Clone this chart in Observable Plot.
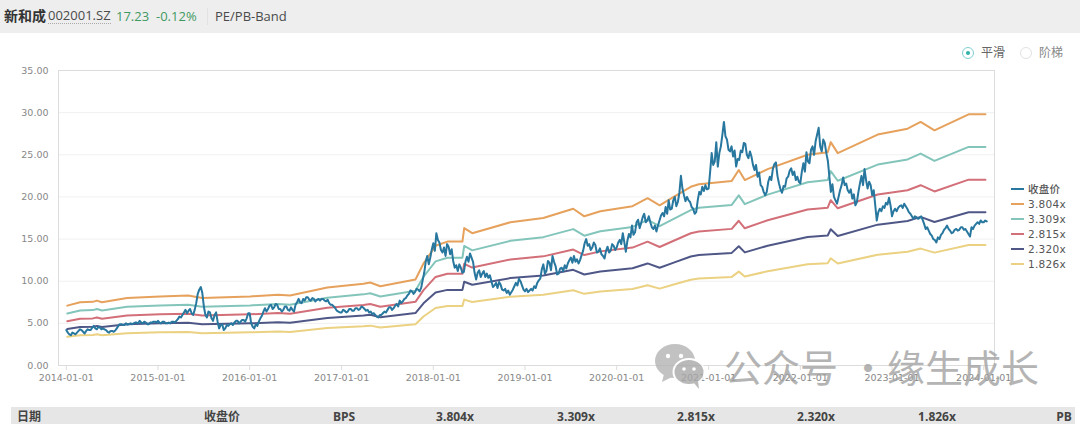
<!DOCTYPE html>
<html lang="zh">
<head>
<meta charset="utf-8">
<script src="https://cdn.jsdelivr.net/npm/d3@7"></script>
<script src="https://cdn.jsdelivr.net/npm/@observablehq/plot@0.6"></script>
<style>
html,body{margin:0;padding:0;background:#fff;overflow:hidden}
#page{position:relative;width:1080px;height:424px;font-family:"Open Sans","Noto Sans CJK SC",sans-serif;overflow:hidden}
#page svg.chart{position:absolute;left:0;top:0;background:transparent}
.abs{position:absolute;white-space:nowrap}
.hd{top:7px;font-size:13px;line-height:18px;color:#4a4a4a}
.th{top:408px;font-size:12px;line-height:17px;font-weight:700;color:#444;transform:translateX(-50%)}
.lg{left:1028px;font:500 10.5px/12px "DejaVu Sans","Noto Sans CJK SC",sans-serif;color:#555;letter-spacing:.3px}
.sw{left:1011px;width:13px;height:2px}
.radio{border-radius:50%;box-sizing:border-box}
.wm{top:343px;font-family:"Noto Sans CJK SC",sans-serif;font-size:38px;line-height:46px;color:#a2a2a2;opacity:.8;font-weight:400}
</style>
</head>
<body>
<div id="page"></div>
<script>
const seriesNames = ["收盘价", "3.804x", "3.309x", "2.815x", "2.320x", "1.826x"];
const seriesColors = ["#27779f", "#e6a15c", "#83c5bb", "#d26f78", "#4f5787", "#ebd182"];
const tableHead = ["收盘价", "BPS", "3.804x", "3.309x", "2.815x", "2.320x", "1.826x"];
const yTicks = [0, 5, 10, 15, 20, 25, 30, 35];
const xTicks = ["2014-01-01","2015-01-01","2016-01-01","2017-01-01","2018-01-01","2019-01-01","2020-01-01","2021-01-01","2022-01-01","2023-01-01","2024-01-01"];

const bandDates = ["2014-01-05","2014-02-25","2014-04-17","2014-05-03","2014-05-23","2014-08-31","2015-01-10","2015-05-01","2015-06-26","2016-01-03","2016-04-23","2016-06-10","2016-11-05","2017-03-29","2017-04-25","2017-06-04","2017-10-22","2017-11-23","2018-01-10","2018-02-26","2018-04-27","2018-05-04","2018-06-05","2018-11-04","2019-03-15","2019-07-12","2019-08-25","2019-10-28","2020-03-04","2020-05-03","2020-06-20","2020-08-15","2020-10-22","2020-11-23","2021-04-03","2021-05-01","2021-05-25","2021-08-24","2022-01-30","2022-04-20","2022-05-02","2022-05-30","2022-11-05","2023-03-04","2023-04-25","2023-06-19","2023-11-02","2024-01-08"];
const band3804 = [7.1,7.5,7.55,7.7,7.5,8.0,8.2,8.3,8.0,8.2,8.4,8.3,9.25,9.7,9.85,9.4,10.2,12.1,14.2,14.7,14.7,16.3,15.7,17.0,17.5,18.6,17.7,18.3,18.9,19.85,19.0,20.0,21.2,21.5,21.9,23.2,22.0,23.3,25.0,25.3,26.5,25.2,27.4,28.1,28.9,27.9,29.8,29.8];
const band3309 = [6.18,6.53,6.57,6.70,6.53,6.96,7.13,7.22,6.96,7.13,7.31,7.22,8.05,8.44,8.57,8.18,8.87,10.53,12.35,12.79,12.79,14.18,13.66,14.79,15.23,16.18,15.40,15.92,16.44,17.27,16.53,17.40,18.44,18.71,19.05,20.18,19.14,20.27,21.75,22.01,23.06,21.92,23.84,24.45,25.14,24.27,25.93,25.93];
const band2815 = [5.25,5.55,5.59,5.70,5.55,5.92,6.07,6.14,5.92,6.07,6.22,6.14,6.85,7.18,7.29,6.96,7.55,8.95,10.51,10.88,10.88,12.06,11.62,12.58,12.95,13.76,13.10,13.54,13.99,14.69,14.06,14.80,15.69,15.91,16.21,17.17,16.28,17.24,18.50,18.72,19.61,18.65,20.28,20.79,21.39,20.65,22.05,22.05];
const band2320 = [4.33,4.58,4.61,4.70,4.58,4.88,5.00,5.06,4.88,5.00,5.12,5.06,5.64,5.92,6.01,5.73,6.22,7.38,8.66,8.97,8.97,9.94,9.58,10.37,10.68,11.35,10.80,11.16,11.53,12.11,11.59,12.20,12.93,13.12,13.36,14.15,13.42,14.21,15.25,15.43,16.17,15.37,16.71,17.14,17.63,17.02,18.18,18.18];
const band1826 = [3.41,3.60,3.62,3.70,3.60,3.84,3.94,3.98,3.84,3.94,4.03,3.98,4.44,4.66,4.73,4.51,4.90,5.81,6.82,7.06,7.06,7.82,7.54,8.16,8.40,8.93,8.50,8.78,9.07,9.53,9.12,9.60,10.18,10.32,10.51,11.14,10.56,11.18,12.00,12.14,12.72,12.10,13.15,13.49,13.87,13.39,14.30,14.30];

// Closing price, sixty readings per calendar year
const price2014 = [4.2,3.9,3.7,3.6,3.9,3.8,3.7,3.9,4.1,4.3,4.2,4.0,3.8,4.1,4.3,4.2,4.2,4.5,4.7,4.4,4.3,4.6,4.5,4.3,4.4,4.3,4.2,4.0,3.9,4.1,4.1,4.0,4.15,4.4,4.7,4.9,4.9,4.8,4.8,5.0,4.85,4.9,5.0,4.9,5.0,5.1,5.1,5.0,5.3,5.1,5.0,5.2,5.1,4.9,4.9,5.1,5.1,5.2,5.2,5.1];
const price2015 = [5.3,5.1,5.0,5.2,5.2,5.0,5.0,5.1,5.0,5.2,5.2,5.1,5.3,5.5,5.8,5.7,6.0,6.3,6.6,6.2,6.5,6.7,6.2,6.0,6.6,7.4,8.5,9.0,9.3,8.6,7.0,6.0,5.7,6.4,6.3,5.6,5.3,6.0,6.3,5.2,4.4,4.8,4.9,4.2,4.4,4.8,4.7,4.9,5.0,4.8,5.1,5.3,5.3,5.0,5.2,5.4,5.4,5.2,5.6,6.2];
const price2016 = [6.2,5.0,4.6,4.4,4.9,4.7,5.2,5.6,5.9,6.4,6.8,6.4,6.7,7.1,7.2,6.7,6.9,7.3,7.2,6.7,6.7,6.4,6.6,7.0,7.0,6.6,6.5,6.9,6.6,6.4,7.2,7.5,7.9,7.5,7.4,7.9,7.7,8.1,8.1,7.8,7.7,8.0,7.9,7.6,7.8,7.9,7.7,7.9,7.9,7.7,7.6,7.8,7.4,7.2,7.2,7.0,6.8,6.5,6.4,6.3];
const price2017 = [6.3,6.6,6.5,6.3,6.4,6.7,6.7,6.5,6.5,6.8,6.8,6.6,6.7,7.0,6.9,6.7,6.5,6.6,6.3,6.4,6.1,6.2,6.0,5.8,5.7,6.0,6.0,6.2,6.4,6.3,6.6,6.9,6.9,6.6,6.8,7.1,7.3,7.0,7.7,7.4,7.6,7.9,8.0,8.3,8.5,8.9,8.8,8.5,8.7,9.1,9.0,8.8,9.2,10.1,11.0,12.3,13.0,12.0,12.8,13.8];
const price2018 = [14.5,13.6,15.7,14.9,14.6,13.7,13.4,14.0,13.0,14.4,14.1,13.2,13.8,12.4,11.6,11.9,11.2,12.0,11.6,11.0,11.1,12.3,12.9,12.3,13.3,12.8,12.3,11.0,10.2,11.0,11.3,10.5,10.9,11.2,10.5,10.9,10.4,10.7,10.0,9.3,9.5,9.8,9.2,9.9,9.6,9.0,8.9,9.1,8.6,8.9,8.4,8.7,9.0,9.4,9.8,9.5,10.3,10.0,9.5,9.0];
const price2019 = [8.8,9.1,8.7,8.9,9.1,8.9,9.4,9.2,9.8,10.1,10.3,11.4,12.0,10.9,11.2,12.4,12.2,11.3,13.0,12.3,11.8,10.8,10.9,11.5,11.6,11.2,11.9,11.5,12.1,12.5,12.8,12.2,13.0,12.3,12.6,12.1,12.5,13.1,13.6,14.5,15.0,14.2,14.4,13.7,14.0,14.6,14.3,13.4,13.5,13.9,13.2,13.0,12.7,13.6,14.1,13.4,13.6,14.4,14.2,13.7];
const price2020 = [14.0,14.6,14.9,14.4,15.7,14.6,13.5,14.8,15.6,15.2,16.6,15.5,15.8,17.0,17.3,16.3,16.9,17.6,18.0,17.0,17.2,17.7,17.0,16.4,16.2,16.6,15.9,16.6,17.2,17.8,18.1,17.7,18.8,18.0,19.6,18.5,18.6,19.6,20.0,18.9,19.4,20.5,22.5,21.0,20.2,19.5,20.0,19.6,19.4,18.8,18.6,18.0,18.2,19.6,20.6,20.3,21.2,20.7,21.4,20.9];
const price2021 = [21.0,23.0,25.2,23.8,24.2,26.5,23.6,25.2,26.0,27.4,28.9,27.2,26.8,25.6,25.4,26.0,24.8,25.5,23.6,24.5,24.4,25.5,25.3,26.4,26.3,25.0,24.6,25.4,24.8,23.8,23.2,23.8,22.4,22.9,21.4,21.2,20.6,20.2,20.6,21.8,22.4,22.0,23.3,23.9,24.1,22.5,21.6,20.9,20.5,21.3,21.2,22.2,22.4,23.1,23.4,22.6,23.0,22.0,22.4,21.8];
const price2022 = [21.6,23.0,24.0,23.0,25.3,24.2,24.0,25.6,26.0,25.0,26.6,27.4,28.2,26.0,25.4,26.8,26.4,25.2,24.3,22.4,20.6,21.5,20.0,19.6,19.2,20.0,20.8,21.4,22.3,21.4,21.6,20.8,20.5,20.9,19.8,20.3,19.0,19.4,20.6,21.6,22.5,21.4,23.3,22.0,21.0,21.8,21.4,20.2,20.8,19.0,17.2,18.2,18.6,18.3,18.9,18.7,19.3,19.1,19.9,19.0];
const price2023 = [17.7,18.3,18.6,18.3,18.7,18.9,19.0,18.7,19.2,18.9,18.6,18.2,18.0,17.7,17.4,17.7,17.6,17.4,17.5,17.7,17.3,16.8,16.2,16.4,16.0,15.6,15.4,15.0,14.9,14.6,15.2,15.0,15.5,15.7,16.1,16.3,16.6,16.2,16.0,15.7,15.8,16.1,16.2,16.0,16.1,16.4,16.4,16.1,16.2,15.9,15.6,15.3,16.4,16.2,16.6,16.8,17.0,16.8,17.2,17.0];
const price2024 = [17.0,17.2,17.1];

const priceYears = [[2014,price2014],[2015,price2015],[2016,price2016],[2017,price2017],[2018,price2018],[2019,price2019],[2020,price2020],[2021,price2021],[2022,price2022],[2023,price2023],[2024,price2024]];
const stepMs = 365.25 / 60 * 864e5;
const priceData = priceYears.flatMap(([y, vals]) => vals.map((v, i) => ({date: new Date(Date.UTC(y, 0, 1) + i * stepMs), value: v})));
const bandSeries = [band3804, band3309, band2815, band2320, band1826];
const bandData = bandSeries.map(vals => vals.map((v, i) => ({date: new Date(bandDates[i]), value: v})));

const chart = Plot.plot({
  width: 1080, height: 424,
  marginLeft: 58, marginRight: 86, marginTop: 70, marginBottom: 59,
  style: {background: "transparent", fontFamily: '"DejaVu Sans",sans-serif', fontSize: "9.5px", color: "#888"},
  x: {type: "utc", domain: [new Date("2013-12-01"), new Date("2024-02-13")]},
  y: {domain: [0, 35]},
  marks: [
    Plot.ruleY(yTicks.slice(1, -1), {stroke: "#f0f0f0", strokeWidth: 1}),
    Plot.frame({stroke: "#dcdcdc", strokeWidth: 1}),
    Plot.axisY({ticks: yTicks, tickSize: 0, tickPadding: 10, tickFormat: d => d.toFixed(2), label: null, fill: "#888"}),
    Plot.axisX({ticks: xTicks.map(d => new Date(d)), tickSize: 5, tickPadding: 4, stroke: "#dcdcdc", fill: "#888", tickFormat: d3.utcFormat("%Y-%m-%d"), label: null}),
    ...bandData.map((d, i) => Plot.line(d, {x: "date", y: "value", stroke: seriesColors[i + 1], strokeWidth: 2})),
    Plot.line(priceData, {x: "date", y: "value", stroke: seriesColors[0], strokeWidth: 2, curve: "linear"})
  ]
});
chart.classList.add("chart");
const page = document.getElementById("page");

function div(cls, text, style) {
  const e = document.createElement("div");
  e.className = "abs " + cls;
  if (text) e.textContent = text;
  Object.assign(e.style, style || {});
  page.appendChild(e);
  return e;
}
div("", "", {left: "0", top: "0", width: "1080px", height: "33px", background: "#eeeeee"});
page.appendChild(chart);
div("hd", "新和成", {left: "4px", fontWeight: "700", fontSize: "14px", color: "#333"});
div("hd", "002001.SZ", {left: "48px", borderBottom: "1px dotted #aaa", lineHeight: "16px"});
div("hd", "17.23", {left: "116px", color: "#3f9a62"});
div("hd", "-0.12%", {left: "156px", color: "#3f9a62"});
div("", "", {left: "207px", top: "8px", width: "1px", height: "17px", background: "#e2e2e2"});
div("hd", "PE/PB-Band", {left: "215px"});

div("radio", "", {left: "962px", top: "47px", width: "12px", height: "12px", border: "1.5px solid #7fcfd0"});
div("radio", "", {left: "966px", top: "51px", width: "4px", height: "4px", background: "#2fb3a8"});
div("", "平滑", {left: "981px", top: "45px", fontSize: "12px", lineHeight: "16px", color: "#666"});
div("radio", "", {left: "1020px", top: "47px", width: "12px", height: "12px", border: "1px solid #e2e2e2"});
div("", "阶梯", {left: "1039px", top: "45px", fontSize: "12px", lineHeight: "16px", color: "#888"});

seriesNames.forEach((n, i) => {
  const y = 189 + i * 15;
  div("sw", "", {top: (y - 1) + "px", background: seriesColors[i]});
  div("lg", n, {top: (y - 6) + "px"});
});

div("", "", {left: "11px", top: "407px", width: "1064px", height: "17px", background: "#e6e6e6"});
div("th", "日期", {left: "29px"});
[222, 344, 455, 576, 696, 816, 937].forEach((x, i) => div("th", tableHead[i], {left: x + "px"}));
div("th", "PB", {left: "1064px"});

// WeChat watermark
const ns = "http://www.w3.org/2000/svg";
const ic = document.createElementNS(ns, "svg");
ic.setAttribute("width", "60"); ic.setAttribute("height", "50");
ic.setAttribute("style", "position:absolute;left:650px;top:342px;opacity:.8");
ic.innerHTML = '<ellipse cx="25" cy="19" rx="20" ry="17" fill="#b4b4b4"/><path d="M14 32l-2 8 10-5z" fill="#b4b4b4"/><ellipse cx="39" cy="30" rx="15.5" ry="13" fill="#a8a8a8" stroke="#fff" stroke-width="2"/><path d="M44 41l5 6-1-8z" fill="#a8a8a8"/><circle cx="18" cy="14" r="2.2" fill="#fff"/><circle cx="31" cy="14" r="2.2" fill="#fff"/><circle cx="34" cy="27" r="1.8" fill="#fff"/><circle cx="44" cy="27" r="1.8" fill="#fff"/>';
page.appendChild(ic);
div("wm", "公众号", {left: "724px"});
div("wm", "·", {left: "849px"});
div("wm", "缘生成长", {left: "887px"});
</script>
</body>
</html>
